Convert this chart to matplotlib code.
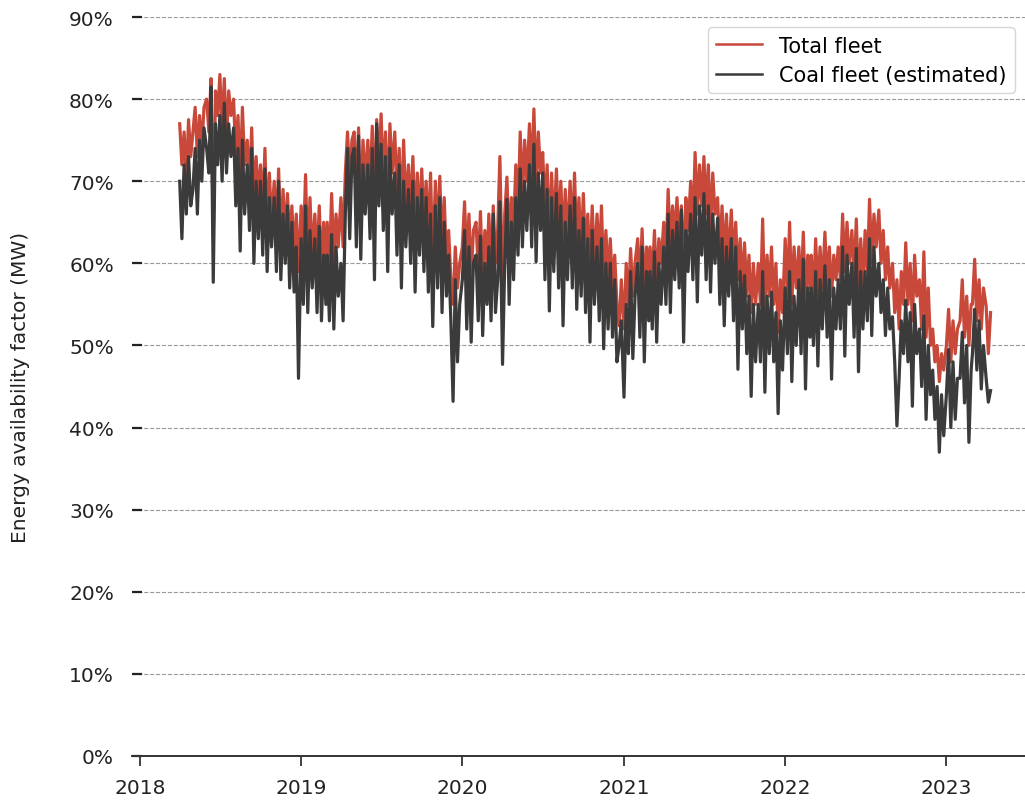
import matplotlib
matplotlib.use('Agg')
import matplotlib.pyplot as plt
import matplotlib.dates as mdates
from matplotlib.ticker import FuncFormatter
import numpy as np
import pandas as pd

# availability factor (%), six readings per month (days 1, 6, 11, 16, 21, 26)
first_month = '2018-04-01'
reading_days = [1, 6, 11, 16, 21, 26]

total_fleet = [
  [77, 72, 76, 70, 77.5, 73],      # 2018-04
  [76, 79, 73, 78, 74, 79],
  [80, 76, 82.5, 63, 81, 78],
  [83, 76, 82.5, 75, 81, 78],
  [80, 73, 78, 70, 79, 72],
  [75, 69, 76.5, 67, 73, 68],
  [72, 66, 74, 64, 71, 65],
  [70, 64, 71.5, 62, 69, 63],
  [68.5, 62, 67, 61, 66, 59],
  [67, 62, 70.8, 60, 68, 61],      # 2019-01
  [66, 60, 67, 59, 65, 58],
  [65, 59.7, 68.5, 60, 66, 62],
  [68, 62, 71, 76, 70, 75],
  [76, 68, 76.5, 66, 75, 70],
  [75, 69, 76.7, 66, 77.5, 71],
  [78.2, 70, 76, 67, 77, 71],
  [76, 68, 74, 65, 75, 67],
  [72, 66, 73, 64, 71, 65],
  [71.5, 65, 70, 63, 71, 60],
  [70, 63, 70.6, 61, 68, 60],
  [64, 58, 55, 62, 57, 60],
  [62, 67.5, 60, 66, 58, 64],      # 2020-01
  [65, 59, 66.3, 58, 64, 60],
  [66, 59, 67, 60, 64, 73],
  [56, 66, 70.5, 62, 68, 64],
  [72, 66, 76, 68, 75, 70],
  [77, 70, 78.8, 69, 76, 71],
  [73.5, 66, 72, 62, 71, 64],
  [71.5, 64, 70, 62, 69, 63],
  [70, 63, 71, 62, 68, 61],
  [68.5, 61, 66, 59, 67, 60],
  [66, 60, 67, 58, 64, 58],
  [63, 57, 61, 55, 52.4, 58],
  [52, 60, 55, 61.8, 56, 60],      # 2021-01
  [63, 57, 64.2, 56, 62, 58],
  [62, 58, 64, 57, 63, 60],
  [65, 60, 69, 62, 67, 63],
  [68, 62, 67, 58, 68, 64],
  [70, 64, 73.5, 66, 72, 67],
  [73, 66, 72, 64, 71, 66],
  [68, 61, 67, 60, 66, 60],
  [66.5, 60, 65, 58, 63, 57],
  [62.5, 56, 61, 54, 60, 55],
  [60, 55, 65.4, 54, 61, 56],
  [62, 55, 60, 51.6, 58, 54],
  [63, 56, 65, 55, 62, 57],        # 2022-01
  [62, 56, 63.8, 55, 61, 57],
  [61, 56, 63, 56, 62, 57],
  [63.8, 57, 62, 56, 61, 58],
  [62, 58, 66, 59, 65, 60],
  [64, 58, 65.4, 57, 63, 57],
  [64, 59, 67.8, 60, 66, 62],
  [66.5, 60, 64, 58, 62, 57],
  [60, 54, 58, 52, 59, 55],
  [62.5, 55, 60, 53, 61, 56],
  [58, 52, 61.4, 51, 57, 50],
  [52, 48, 50, 45.6, 49, 47],
  [50, 54.4, 48, 53, 49, 52],      # 2023-01
  [53, 58, 51, 56, 50, 55],
  [55, 60.5, 53, 58, 52, 57],
  [54.8, 49, 54],
]

coal_fleet = [
  [70, 63, 72, 66, 73, 67],        # 2018-04
  [69, 74, 66, 75, 70, 76.5],
  [74, 71, 81.5, 57.7, 77, 72],
  [78, 70, 79.5, 71, 77, 73],
  [76.5, 67, 74, 61.5, 75, 66],
  [72, 64, 74, 60, 70, 63],
  [70, 61, 71.5, 59, 68, 62],
  [68, 59, 70, 58, 66, 60],
  [67, 57, 65, 56.5, 62, 46],
  [63, 55, 67, 54, 64, 57],        # 2019-01
  [63, 54, 64.5, 53, 61, 55],
  [61, 53, 63.5, 52, 62, 56],
  [60, 53, 66, 74, 63, 73],
  [74, 62, 75.5, 60.5, 72, 66],
  [72, 63, 74, 58, 77, 67],
  [74.5, 64, 73, 59, 74, 66],
  [71, 61, 72, 57, 70, 62],
  [69, 60, 70, 56.5, 68, 61],
  [69, 59, 68, 56.5, 66, 52.3],
  [67, 57, 68, 54, 65, 56],
  [61, 53, 43.2, 58, 48, 55],
  [58, 64, 52, 62, 50.4, 60],      # 2020-01
  [61, 53, 63.3, 51.2, 60, 55],
  [62, 53, 66, 54, 58, 67.5],
  [47.7, 60, 67.8, 55, 65, 58],
  [68, 61, 71.5, 62, 70, 64],
  [72, 62, 74.5, 60.2, 71, 64],
  [71, 58, 69, 54.2, 68, 59],
  [68.5, 57, 67, 52.4, 65, 58],
  [67, 57, 68, 54.4, 64, 56],
  [65.5, 54, 63, 50.4, 64, 55],
  [62, 53, 63, 49.6, 60, 52],
  [60, 51, 58, 48, 50, 53],
  [43.7, 55, 49, 59, 48.4, 56],    # 2021-01
  [60, 51, 62, 48, 59, 53],
  [59, 52, 61.4, 50.4, 60, 55],
  [62, 55, 66, 54, 64, 58],
  [65, 57, 66.5, 50.4, 64, 59],
  [66, 58, 68, 55.3, 67, 61],
  [68.5, 58, 67, 56.5, 66, 60],
  [65.5, 55, 63, 52.4, 62, 56],
  [63, 53, 62, 47.1, 59, 52],
  [58.5, 49, 56, 43.8, 55, 48],
  [55, 48, 59, 44.3, 56, 49],
  [56.5, 48, 54, 41.7, 53, 47],
  [57, 49, 59, 45.6, 56, 50],      # 2022-01
  [58, 49, 60.5, 44.7, 57, 51],
  [57, 50, 59, 47.5, 58, 52],
  [59.7, 51, 58, 45.9, 57, 52],
  [58, 52, 62, 48.7, 61, 55],
  [60, 51, 61.8, 46.8, 59, 52],
  [59, 53, 63, 51.2, 62, 56],
  [60, 54, 58, 51.2, 57, 52],
  [53.5, 48, 40.2, 46, 53, 49],
  [55.5, 48, 54, 42.6, 55, 49],
  [52, 45, 53.6, 41, 50, 44],
  [47, 41, 45, 37, 44, 39],
  [44, 49.5, 40, 48, 41, 46],      # 2023-01
  [46, 51.6, 43, 50, 38.2, 47],
  [49, 54.4, 47, 53, 44.7, 50],
  [46, 43.1, 44.5],
]

months = pd.date_range(first_month, periods=len(total_fleet), freq='MS')


def to_series(rows):
  dates, vals = [], []
  for m, row in zip(months, rows):
    for d, v in zip(reading_days, row):
      dates.append(m + pd.Timedelta(days=d - 1))
      vals.append(v)
  return pd.to_datetime(dates), np.array(vals)


fig = plt.figure(figsize=(10.25, 8.03), dpi=100)
ax = fig.add_axes([132 / 1025, 46 / 803, 893 / 1025, 739 / 803])

t_dates, t_vals = to_series(total_fleet)
c_dates, c_vals = to_series(coal_fleet)
ax.plot(t_dates, t_vals, color='#c8483a', linewidth=2.3, label='Total fleet')
ax.plot(c_dates, c_vals, color='#3b3b3b', linewidth=2.3, label='Coal fleet (estimated)')

fs = 14.5
ax.set_ylim(0, 90)
ax.set_xlim(pd.Timestamp('2017-12-14'), pd.Timestamp('2023-06-28'))
ax.set_yticks(np.arange(0, 91, 10))
ax.yaxis.set_major_formatter(FuncFormatter(lambda v, p: '{:.0f}%'.format(v)))
ax.xaxis.set_major_locator(mdates.YearLocator())
ax.xaxis.set_major_formatter(mdates.DateFormatter('%Y'))

for s in ['left', 'top', 'right']:
  ax.spines[s].set_visible(False)
ax.spines['bottom'].set_linewidth(1.4)
ax.spines['bottom'].set_color('#333333')

ax.tick_params(axis='y', direction='in', length=7, width=1.6, pad=13, labelsize=fs, colors='#222222')
ax.tick_params(axis='x', direction='out', length=7, width=1.2, pad=9, labelsize=fs, colors='#222222')

ax.grid(axis='y', linestyle='--', color='#999999', linewidth=0.8)
ax.set_axisbelow(True)
ax.set_ylabel('Energy availability factor (MW)', fontsize=14.5, labelpad=28, color='#222222')

leg = ax.legend(loc='upper right', fontsize=15, borderaxespad=0.5, handlelength=2.2, labelspacing=0.45)
for line in leg.get_lines():
  line.set_linewidth(1.8)

plt.savefig('out.png', dpi=100)
